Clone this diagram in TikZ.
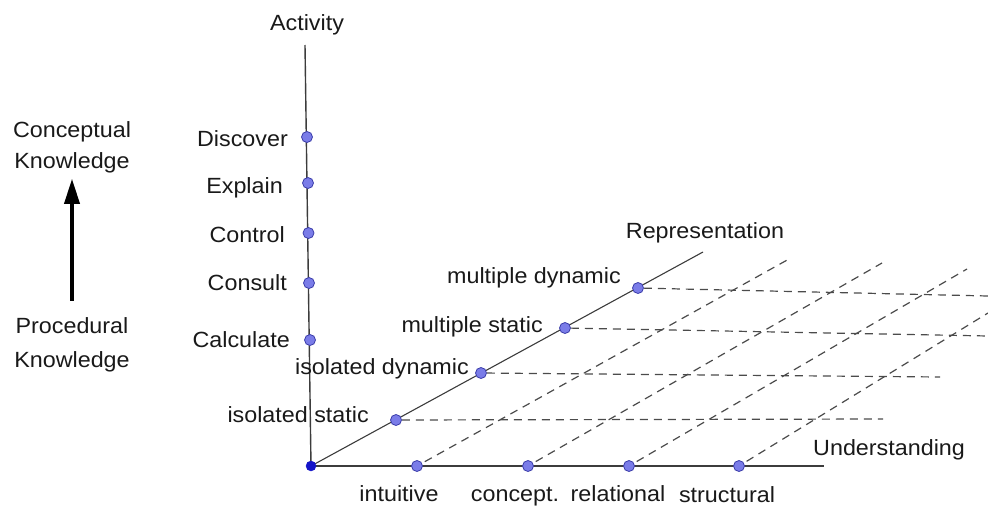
\documentclass[tikz,border=0pt]{standalone}
\usepackage{fontspec}
\setmainfont{Liberation Sans}[FakeStretch=1.06]
\usetikzlibrary{arrows.meta}
\definecolor{dotfill}{RGB}{122,124,232}
\definecolor{dotline}{RGB}{60,62,170}
\definecolor{origfill}{RGB}{20,20,200}
\definecolor{axisc}{RGB}{60,60,60}
\definecolor{dashc}{RGB}{75,75,75}
\definecolor{txt}{RGB}{25,25,25}
\begin{document}
\begin{tikzpicture}[x=1pt,y=-1pt,
  lbl/.style={inner sep=0pt, font=\fontsize{22}{26}\selectfont, text=txt},
  pt/.style={circle, draw=dotline, fill=dotfill, line width=0.8pt, minimum size=11pt, inner sep=0pt},
  orig/.style={circle, draw=origfill, fill=origfill, minimum size=10pt, inner sep=0pt},
  axis/.style={draw=axisc, line width=1.4pt},
  raxis/.style={draw=axisc, line width=1.1pt},
  gridline/.style={draw=dashc, line width=1.2pt, dash pattern=on 8pt off 6pt},
  bigarrow/.style={draw=black, line width=3.5pt, -{Triangle[length=25pt,width=15pt]}}]
\useasboundingbox (0,0) rectangle (988,506);

% axes
\coordinate (o) at (311,466);
\coordinate (atop) at (305,45);
\coordinate (uend) at (824,466);
\coordinate (rend) at (703,252);
\draw[axis] (o) -- (atop);
\draw[axis] (o) -- (uend);
\draw[raxis] (o) -- (rend);

% dots on activity axis
\node[pt] (dDis) at (307,137) {};
\node[pt] (dExp) at (308,183) {};
\node[pt] (dCon) at (308.5,233) {};
\node[pt] (dCsl) at (309,283) {};
\node[pt] (dCal) at (310,340) {};

% dots on understanding axis
\node[pt] (uI) at (417,466) {};
\node[pt] (uC) at (528,466) {};
\node[pt] (uR) at (629,466) {};
\node[pt] (uS) at (739,466) {};

% dots on representation axis
\node[pt] (rIS) at (396,420) {};
\node[pt] (rID) at (481,373) {};
\node[pt] (rMS) at (565,328) {};
\node[pt] (rMD) at (638,288) {};

\node[orig] (O) at (o) {};

% grid end points
\coordinate (hIS) at (883,419);
\coordinate (hID) at (940,377);
\coordinate (hMS) at (988,336);
\coordinate (hMD) at (988,296);
\coordinate (gI) at (789,259);
\coordinate (gC) at (882,263);
\coordinate (gR) at (967,269);
\coordinate (gS) at (988,313);

\draw[gridline] (rIS) -- (hIS);
\draw[gridline] (rID) -- (hID);
\draw[gridline] (rMS) -- (hMS);
\draw[gridline] (rMD) -- (hMD);
\draw[gridline, shorten <=3pt] (uI) -- (gI);
\draw[gridline, shorten <=3pt] (uC) -- (gC);
\draw[gridline, shorten <=3pt] (uR) -- (gR);
\draw[gridline, shorten <=3pt] (uS) -- (gS);

% axis titles
\node[lbl, anchor=base] (tAct) at (307,30) {Activity};
\node[lbl, anchor=base] (tRep) at (705,238) {Representation};
\node[lbl, anchor=base west] (tUnd) at (813,455) {Understanding};

% activity labels
\node[lbl, anchor=base east] (lDis) at (288,146) {Discover};
\node[lbl, anchor=base east] (lExp) at (283,193) {Explain};
\node[lbl, anchor=base east] (lCon) at (285,242) {Control};
\node[lbl, anchor=base east] (lCsl) at (287,290) {Consult};
\node[lbl, anchor=base east] (lCal) at (290,347) {Calculate};

% representation labels
\node[lbl, anchor=base east] (lIS) at (369,422) {isolated static};
\node[lbl, anchor=base east] (lID) at (469,374) {isolated dynamic};
\node[lbl, anchor=base east] (lMS) at (543,332) {multiple static};
\node[lbl, anchor=base east] (lMD) at (621,283) {multiple dynamic};

% understanding labels
\node[lbl, anchor=base] (lI) at (399,501) {intuitive};
\node[lbl, anchor=base] (lC) at (515,501) {concept.};
\node[lbl, anchor=base] (lR) at (618,501) {relational};
\node[lbl, anchor=base] (lS) at (727,502) {structural};

% knowledge arrow
\node[lbl, anchor=base] (kC1) at (72,137) {Conceptual};
\node[lbl, anchor=base] (kC2) at (72,168) {Knowledge};
\node[lbl, anchor=base] (kP1) at (72,333) {Procedural};
\node[lbl, anchor=base] (kP2) at (72,367) {Knowledge};
\draw[bigarrow, shorten <=16pt, shorten >=6pt] (kP1.north) -- (kC2.south);
\end{tikzpicture}
\end{document}
